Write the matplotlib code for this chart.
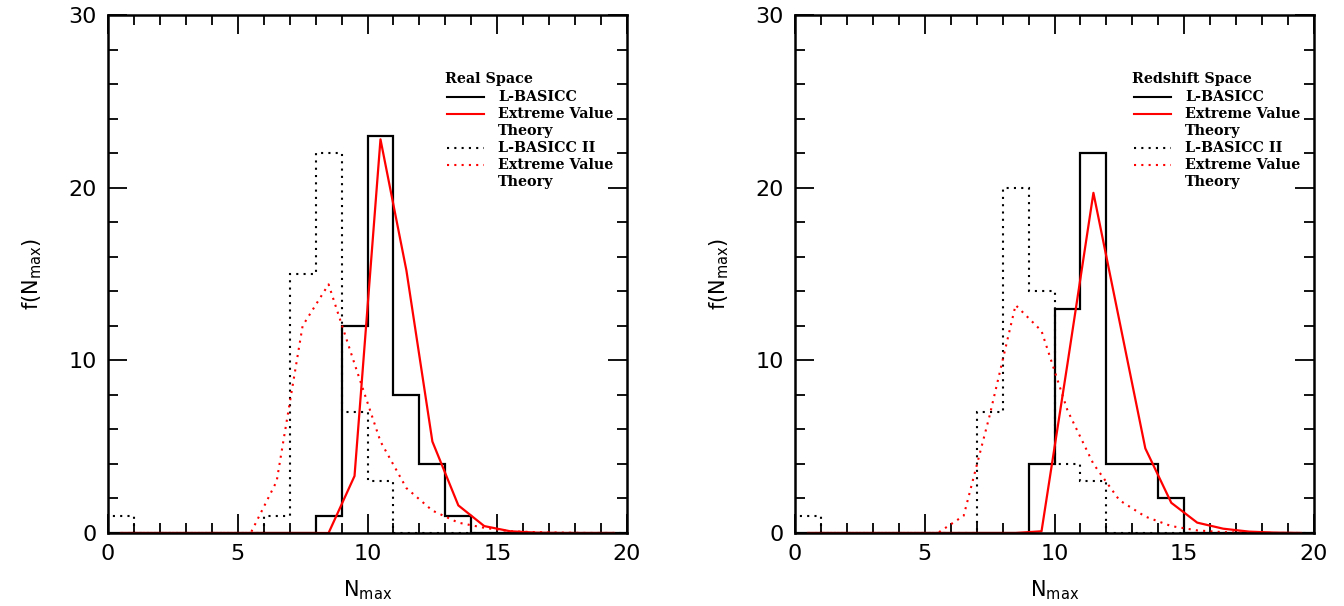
import matplotlib
matplotlib.use("Agg")
import matplotlib.pyplot as plt
from matplotlib.ticker import MultipleLocator
import numpy as np

# bin edges of the histograms and midpoints of the theory curves
edges = np.arange(0, 21)
mids = np.arange(0.5, 20.0, 1.0)

# Real space
real_lb = [0, 0, 0, 0, 0, 0, 0, 0, 1, 12, 23, 8, 4, 1, 0, 0, 0, 0, 0, 0]
real_lb2 = [1, 0, 0, 0, 0, 0, 1, 15, 22, 7, 3, 0, 0, 0, 0, 0, 0, 0, 0, 0]
real_evt = [0, 0, 0, 0, 0, 0, 0, 0, 0, 3.3, 22.8, 15.2, 5.3, 1.6, 0.4, 0.1, 0.02, 0, 0, 0]
real_evt2 = [0, 0, 0, 0, 0, 0, 3.0, 12.0, 14.4, 9.8, 5.3, 2.6, 1.3, 0.6, 0.3, 0.1, 0.05, 0.02, 0, 0]

# Redshift space
z_lb = [0, 0, 0, 0, 0, 0, 0, 0, 0, 4, 13, 22, 4, 4, 2, 0, 0, 0, 0, 0]
z_lb2 = [1, 0, 0, 0, 0, 0, 0, 7, 20, 14, 4, 3, 0, 0, 0, 0, 0, 0, 0, 0]
z_evt = [0, 0, 0, 0, 0, 0, 0, 0, 0, 0.1, 9.8, 19.7, 12.3, 4.9, 1.75, 0.6, 0.25, 0.08, 0.02, 0]
z_evt2 = [0, 0, 0, 0, 0, 0, 1.0, 6.8, 13.2, 11.7, 7.1, 4.0, 1.9, 0.95, 0.4, 0.15, 0.05, 0.02, 0, 0]

panels = [
    ("Real Space", real_lb, real_evt, real_lb2, real_evt2),
    ("Redshift Space", z_lb, z_evt, z_lb2, z_evt2),
]
legend_labels = ["L-BASICC", "Extreme Value", "Theory", "L-BASICC II", "Extreme Value", "Theory"]
legend_styles = [("k", "-"), ("red", "-"), None, ("k", ":"), ("red", ":"), None]

dots = (0, (1, 2.5))
fig = plt.figure(figsize=(13.44, 6.06), dpi=100)
lefts = [108 / 1344, 795 / 1344]
legend_font = {"family": "DejaVu Serif", "weight": "bold", "size": 10.3}

for left, (title, lb, evt, lb2, evt2) in zip(lefts, panels):
    ax = fig.add_axes([left, 73 / 606, 519 / 1344, 518 / 606])
    ax.stairs(lb, edges, color="k", lw=1.6, baseline=0)
    ax.stairs(lb2, edges, color="k", lw=1.5, ls=dots, baseline=0)
    ax.plot(mids, evt, color="red", lw=1.6)
    ax.plot(mids, evt2, color="red", lw=1.5, ls=dots)

    ax.set_xlim(0, 20)
    ax.set_ylim(0, 30)
    ax.xaxis.set_major_locator(MultipleLocator(5))
    ax.xaxis.set_minor_locator(MultipleLocator(1))
    ax.yaxis.set_major_locator(MultipleLocator(10))
    ax.yaxis.set_minor_locator(MultipleLocator(2))
    ax.tick_params(which="both", direction="in", top=True, right=True, width=1.3, labelsize=16, pad=8)
    ax.tick_params(which="major", length=14)
    ax.tick_params(which="minor", length=7)
    for s in ax.spines.values():
        s.set_linewidth(1.8)
    ax.set_xlabel(r"N$_{\rm max}$", fontsize=15, labelpad=10)
    ax.set_ylabel(r"f(N$_{\rm max}$)", fontsize=15, labelpad=18)

    # hand drawn key in the top right
    ax.text(13.0, 26.3, title, va="center", ha="left", fontdict=legend_font)
    y = 25.25
    for lab, sty in zip(legend_labels, legend_styles):
        if sty is not None:
            ax.plot([13.06, 14.49], [y, y], color=sty[0], ls="-" if sty[1] == "-" else dots, lw=1.5)
        ax.text(15.03, y, lab, va="center", ha="left", fontdict=legend_font)
        y -= 0.99

fig.savefig("out.png", dpi=100)
